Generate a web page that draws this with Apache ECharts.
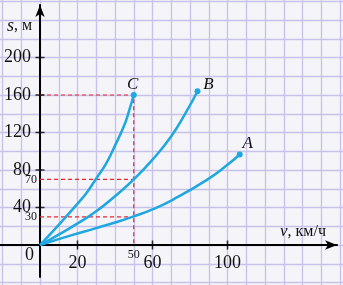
<!DOCTYPE html>
<html>
<head>
<meta charset="utf-8">
<style>
html,body{margin:0;padding:0;background:#f5f4f8;}
#chart{width:343px;height:285px;}
</style>
<script src="https://cdn.jsdelivr.net/npm/echarts@6/dist/echarts.min.js"></script>
</head>
<body>
<div id="chart"></div>
<script>
// ---- data (v in km/h, s in m) ----
const curveA = [[0,0],[17,10.5],[29,17.5],[40,24],[50,30.5],[60,38],[71,48.5],[89,69.5],[100,85.5],[106.5,96.5]];
const curveB = [[0,0],[10,11],[20,23],[30,36],[40,52],[50,70],[60,91],[70,116],[78,142],[84,164]];
const curveC = [[0,0],[10,21.5],[20,44],[25,56],[30,71],[35,86],[40,106],[45,128],[47.5,143],[50,160]];
const curveNames = ['A','B','C'];
const xTickValues = [20, 60, 100];
const yTickValues = [40, 80, 120, 160, 200];
const xSmallLabels = [50];
const ySmallLabels = [30, 70];
const guideC = [[0,160],[50,160],[50,0]];
const guideB = [[0,70],[50,70]];
const guideA = [[0,30],[50,30]];
const xAxisTitle = 'км/ч';
const yAxisTitle = 'м';

const serif = 'Liberation Serif, DejaVu Serif, serif';
const blue = '#1ea7e1';
const red = '#e8262f';
const gridColor = '#c6c2ea';
const noLine = {show: false, onZero: false};
// grid 0 spans v -30..170 and s -60..280; axis offset brings the labels to the origin
const X_OFF = -56.25, Y_OFF = -56.25;

function withEnd(data, name, offset) {
  const pts = data.map(p => p.slice());
  const last = pts.pop();
  return pts.concat([{
    value: last,
    symbol: 'circle',
    symbolSize: 6,
    label: {
      show: true, formatter: name, position: 'inside', offset: offset,
      fontFamily: serif, fontStyle: 'italic', fontSize: 17, color: '#111'
    }
  }]);
}

const chart = echarts.init(document.getElementById('chart'), null, {renderer: 'canvas'});

const curveSeries = (data, name, offset) => ({
  type: 'line', name: name, xAxisIndex: 0, yAxisIndex: 0,
  data: withEnd(data, name, offset), smooth: true,
  symbol: 'none', showSymbol: true,
  lineStyle: {color: blue, width: 2.5},
  itemStyle: {color: blue},
  z: 5, silent: true, animation: false
});

const guideSeries = (data) => ({
  type: 'line', xAxisIndex: 0, yAxisIndex: 0, data: data,
  symbol: 'none', lineStyle: {color: red, width: 1.2, type: [4, 3]},
  z: 3, silent: true, animation: false
});

chart.setOption({
  backgroundColor: '#f5f4f8',
  animation: false,
  grid: [
    {left: -16.25, right: -15.75, top: -17.5, bottom: -16.25, containLabel: false, outerBoundsMode: 'none'},
    {left: 0, right: 6, top: 5, bottom: 8, containLabel: false, outerBoundsMode: 'none'}
  ],
  xAxis: [
    {type: 'value', gridIndex: 0, min: -30, max: 170, interval: 10, position: 'bottom', offset: X_OFF,
     axisLine: noLine, axisTick: {show: false},
     splitLine: {show: true, lineStyle: {color: gridColor, width: 1.3}},
     axisLabel: {show: true, margin: 9, fontFamily: serif, fontSize: 18, color: '#111',
       formatter: v => xTickValues.includes(v) ? String(v) : ''}},
    {type: 'value', gridIndex: 0, min: -30, max: 170, interval: 10, position: 'bottom', offset: X_OFF,
     axisLine: noLine, axisTick: {show: false}, splitLine: {show: false},
     axisLabel: {show: true, margin: 4, fontFamily: serif, fontSize: 12, color: '#111',
       formatter: v => xSmallLabels.includes(v) ? String(v) : ''}},
    {type: 'value', gridIndex: 1, min: -21.333, max: 158.4,
     axisLine: {show: true, onZero: true, lineStyle: {color: '#000', width: 2},
       symbol: ['none', 'arrow'], symbolSize: [7, 12]},
     axisTick: {show: false}, axisLabel: {show: false}, splitLine: {show: false}}
  ],
  yAxis: [
    {type: 'value', gridIndex: 0, min: -60, max: 280, interval: 20, position: 'left', offset: Y_OFF,
     axisLine: noLine, axisTick: {show: false},
     splitLine: {show: true, lineStyle: {color: gridColor, width: 1.3}},
     axisLabel: {show: true, margin: 9, fontFamily: serif, fontSize: 18, color: '#111',
       formatter: v => yTickValues.includes(v) ? String(v) : ''}},
    {type: 'value', gridIndex: 0, min: -60, max: 280, interval: 10, position: 'left', offset: Y_OFF,
     axisLine: noLine, axisTick: {show: false}, splitLine: {show: false},
     axisLabel: {show: true, margin: 3, fontFamily: serif, fontSize: 12, color: '#111',
       formatter: v => ySmallLabels.includes(v) ? String(v) : ''}},
    {type: 'value', gridIndex: 1, min: -34.133, max: 256,
     axisLine: {show: true, onZero: true, lineStyle: {color: '#000', width: 2},
       symbol: ['none', 'arrow'], symbolSize: [7, 12]},
     axisTick: {show: false}, axisLabel: {show: false}, splitLine: {show: false}}
  ],
  series: [
    guideSeries(guideC), guideSeries(guideB), guideSeries(guideA),
    curveSeries(curveA, curveNames[0], [8, -11]),
    curveSeries(curveB, curveNames[1], [11, -7]),
    curveSeries(curveC, curveNames[2], [-1, -10]),
    {type: 'scatter', xAxisIndex: 0, yAxisIndex: 0, silent: true,
     data: xTickValues.map(v => [v, 0]), symbol: 'rect', symbolSize: [1.5, 9],
     itemStyle: {color: '#000'}, z: 6},
    {type: 'scatter', xAxisIndex: 0, yAxisIndex: 0, silent: true,
     data: yTickValues.map(v => [0, v]), symbol: 'rect', symbolSize: [9, 1.5],
     itemStyle: {color: '#000'}, z: 6}
  ],
  graphic: [
    {type: 'text', left: 7, top: 17, silent: true, z: 10,
     style: {text: '{i|s}, ' + yAxisTitle, fontFamily: serif, fontSize: 16, fill: '#111',
       rich: {i: {fontStyle: 'italic', fontFamily: serif, fontSize: 18}}}},
    {type: 'text', left: 280, top: 223, silent: true, z: 10,
     style: {text: '{i|v}, ' + xAxisTitle, fontFamily: serif, fontSize: 16, fill: '#111',
       rich: {i: {fontStyle: 'italic', fontFamily: serif, fontSize: 17}}}},
    {type: 'text', left: 25, top: 246, silent: true, z: 10,
     style: {text: '0', fontFamily: serif, fontSize: 18, fill: '#111'}}
  ]
});
</script>
</body>
</html>
